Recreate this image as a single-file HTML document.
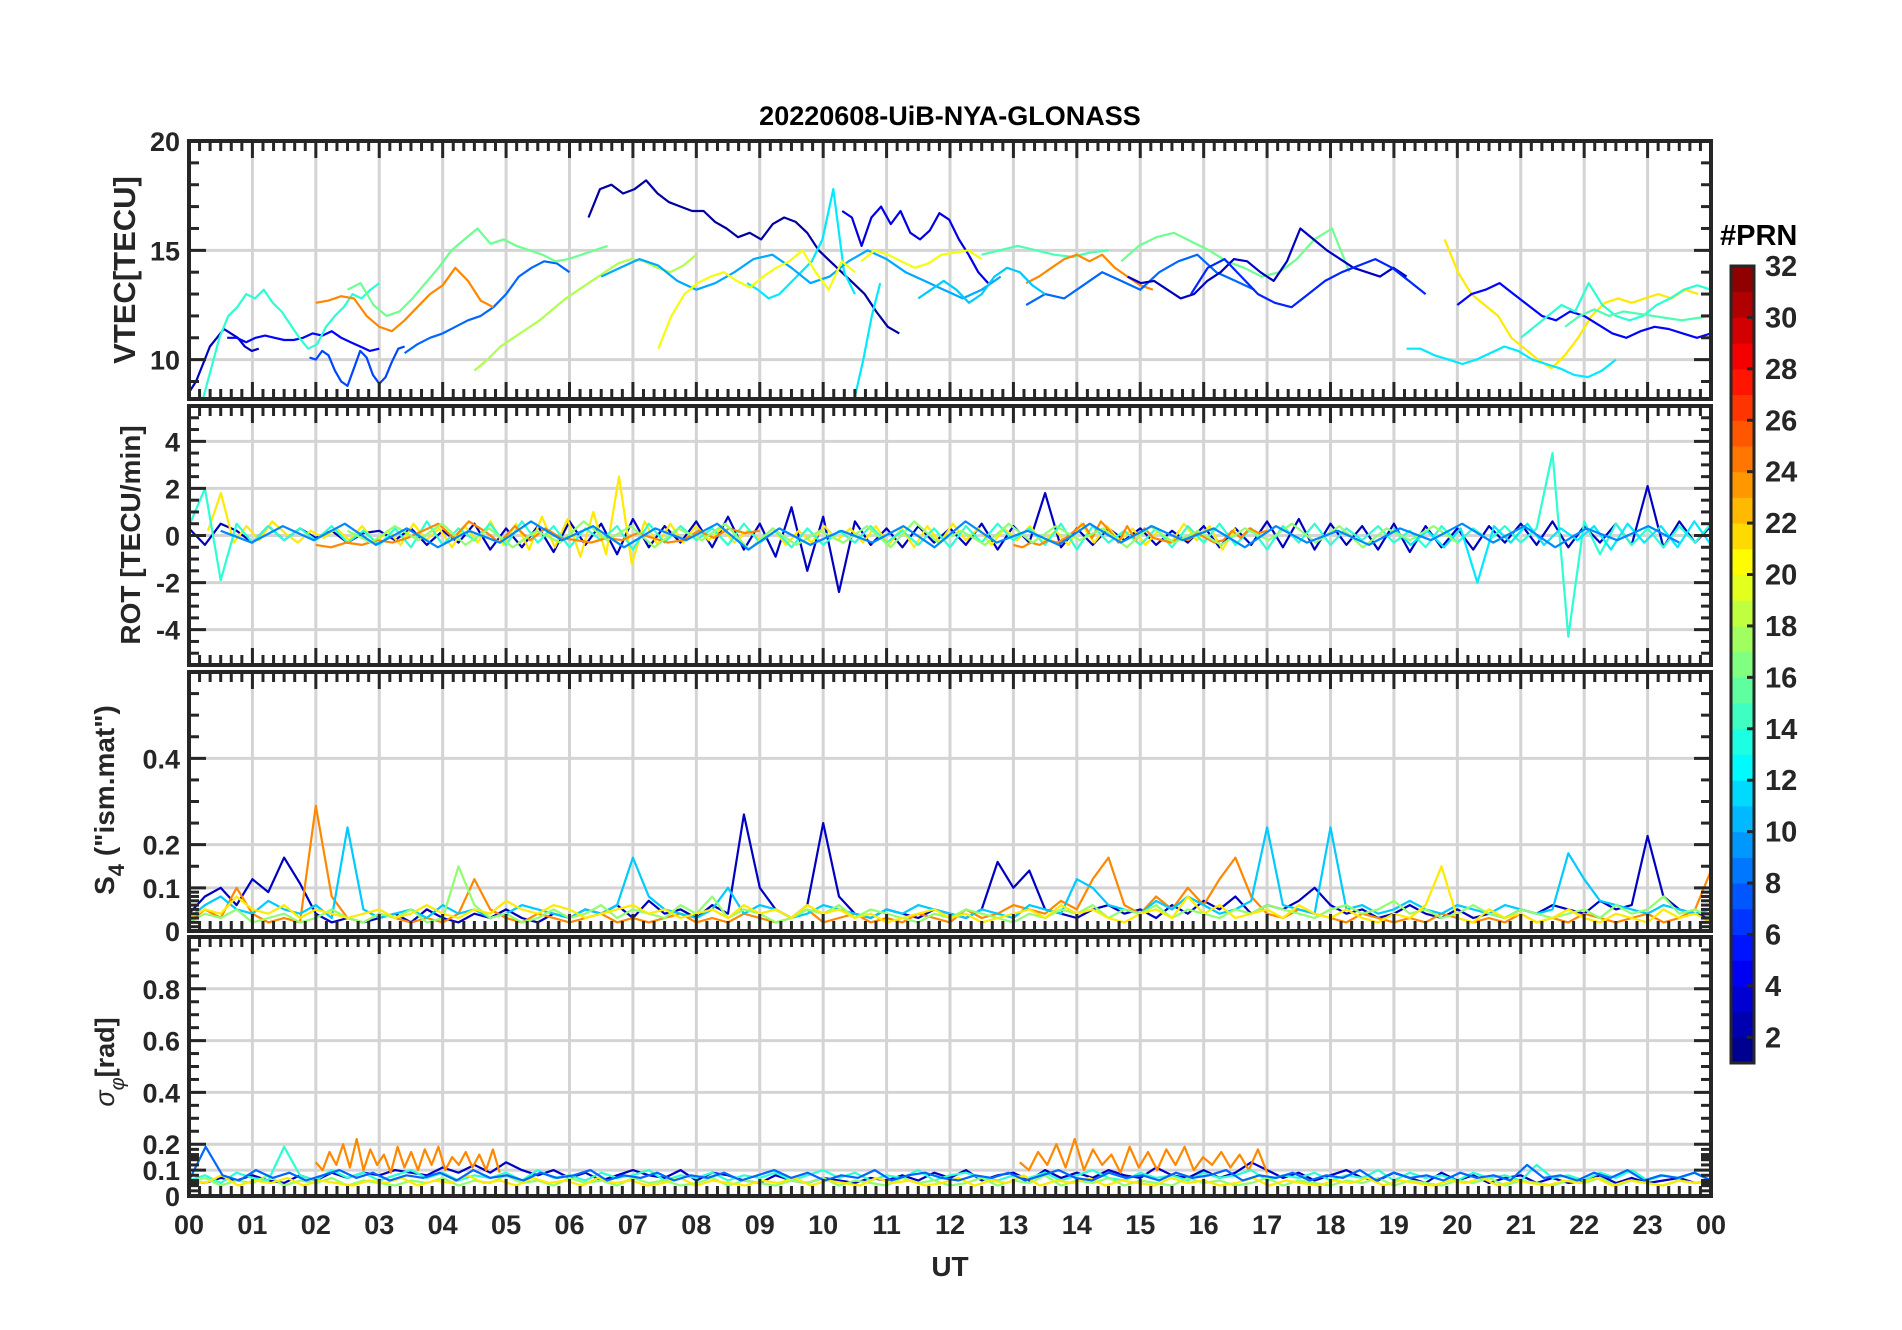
<!DOCTYPE html>
<html><head><meta charset="utf-8"><title>20220608-UiB-NYA-GLONASS</title>
<style>html,body{margin:0;padding:0;background:#fff}svg{display:block}text{font-family:"Liberation Sans",Arial,sans-serif}</style>
</head><body>
<svg id="chart" width="1902" height="1330" viewBox="0 0 1902 1330" xmlns="http://www.w3.org/2000/svg">
<rect x="0" y="0" width="1902" height="1330" fill="#fff"/>
<text x="950" y="125" font-size="27" font-weight="bold" text-anchor="middle" fill="#000">20220608-UiB-NYA-GLONASS</text>
<g id="panels"></g>
<g id="cbar"></g>
<text x="950" y="1276" font-size="28" font-weight="bold" text-anchor="middle" fill="#262626">UT</text>
<text transform="translate(135,270) rotate(-90)" font-size="31" font-weight="bold" text-anchor="middle" fill="#262626">VTEC[TECU]</text>
<text transform="translate(140,535) rotate(-90)" font-size="28" font-weight="bold" text-anchor="middle" fill="#262626">ROT [TECU/min]</text>
<text transform="translate(114,800) rotate(-90)" font-size="28" font-weight="bold" text-anchor="middle" fill="#262626">S<tspan font-size="22" dy="10">4</tspan><tspan dy="-10"> ("ism.mat")</tspan></text>
<text transform="translate(114,1062) rotate(-90)" font-size="27" text-anchor="middle" fill="#262626"><tspan font-style="italic">σ</tspan><tspan font-style="italic" font-size="20" dy="10">φ</tspan><tspan dy="-10" font-weight="bold">[rad]</tspan></text>
</svg>
<script>
// ---------- data ----------
const hourLabels = ["00","01","02","03","04","05","06","07","08","09","10","11","12","13","14","15","16","17","18","19","20","21","22","23","00"];
const vtecTicks = [10,15,20];
const rotTicks = [-4,-2,0,2,4];
const s4Ticks = [0,0.1,0.2,0.4];
const sigTicks = [0,0.1,0.2,0.4,0.6,0.8];
const cbarTicks = [2,4,6,8,10,12,14,16,18,20,22,24,26,28,30,32];

// VTEC series: [prn, tStart, tEnd] + values
const v1 = [8.5,9,9.8,10.6,11,11.4,11.2,11,10.6,10.4,10.5];
const v2 = [11,11,10.8,11,11.1,11,10.9,10.9,11,11.2,11.1,11.3,11,10.8,10.6,10.4,10.5];
const v3 = [10.1,10,10.4,10.2,9.5,9,8.8,9.6,10.4,10.1,9.3,8.9,9.2,9.9,10.5,10.6];
const v4 = [10.3,10.7,11,11.2,11.5,11.8,12,12.4,13,13.8,14.2,14.5,14.4,14];
const v5 = [8,9.5,11,12,12.4,13,12.8,13.2,12.6,12.2,11.6,11,10.5,10.7,11.5,12,12.4,13,12.8,13.2,13.5];
const v6 = [12.6,12.7,12.9,12.8,12,11.5,11.3,11.8,12.4,13,13.4,14.2,13.6,12.7,12.4];
const v7 = [13.2,13.5,12.5,12,12.2,12.8,13.5,14.2,15,15.5,16,15.3,15.5,15.2,15,14.8,14.5,14.6,14.8,15,15.2];
const v8 = [9.5,10,10.6,11,11.4,11.8,12.3,12.8,13.2,13.6,14,14.4,14.6,14.5,14.2,14,14.3,14.8];
const v9 = [16.5,17.8,18,17.6,17.8,18.2,17.6,17.2,17,16.8,16.8,16.3,16,15.6,15.8,15.5,16.2,16.5,16.3,15.8,15,14.5,14,13.5,13,12.2,11.5,11.2];
const v10 = [16.8,16.5,15.2,16.5,17,16.2,16.8,15.8,15.5,15.9,16.7,16.4,15.5,14.8,14,13.5];
const v11 = [13.5,13.2,12.8,13,13.5,14,14.5,15.5,17.8,14,13];
const v12 = [8.3,10,12,13.5];
const v13 = [13.8,14.2,14.6,14.3,13.6,13.2,13.5,14,14.6,14.8,14.2,13.5,13.8,14.5,15,14.6,14,13.6,13.2,12.8,13.2,13.8];
const v14 = [10.5,12,13,13.5,13.8,14,13.6,13.3,13.8,14.2,14.5,15,14,13.2,14.5,14];
const v15 = [14.5,15,14.8,14.5,14.2,14.4,14.8,14.9,15,14.6];
const v16 = [14.8,15,15.2,15,14.8,14.7,14.9,15];
const v17 = [13.5,13.8,14.2,14.6,14.8,14.5,14.8,14.2,13.8,13.4,13.2];
const v18 = [12.5,13,12.8,13.4,14,13.6,13.2,14,14.5,14.8,14,13.6,13.2];
const v19 = [14.5,15.2,15.6,15.8,15.4,15,14.5,14.2,13.8,14,14.6,15.5,16,14];
const v20 = [13.8,13.5,13.6,13.2,12.8,13,13.6,14,14.6,14.5,14,13.6,14.5,16,15.5,15,14.6,14.2,14,13.8,14.2,13.8];
const v21 = [15.5,14,13,12.5,12,11,10.5,10,9.6,10.2,11,12,12.6,12.8,12.6,12.8,13,12.8,13.2,13];
const v22 = [10.5,10.5,10.2,10,9.8,10,10.3,10.6,10.4,10,9.8,9.6,9.3,9.2,9.5,10];
const v23 = [12.5,13,13.2,13.5,13,12.5,12,11.8,12.2,12,11.6,11.2,11,11.3,11.5,11.4,11.2,11,11.2];
const v24 = [11,11.5,12,12.5,12.2,13.5,12.5,12,11.8,12,12.5,12.8,13.2,13.4,13.2];
const v25 = [11.5,12,12.3,12,12.2,12.1,12,11.9,11.8,11.9,12];
const v26 = [13,14.2,14.6,13.8,13,12.6,12.4,13,13.6,14,14.3,14.6,14.2,13.6,13];
const v27 = [12.8,13.2,13.6,13.2,12.6,13,13.8,14.2,14,13.4,13];
const vtecSeries = [[3,0,1.1,v1],[5,0.6,3.0,v2],[7,1.9,3.4,v3],[8,3.4,6.0,v4],[14,0.2,3.0,v5],[24,2.0,4.8,v6],[16,2.5,6.6,v7],[18,4.5,8.0,v8],[2,6.3,11.2,v9],[4,10.3,12.6,v10],[12,8.8,10.5,v11],[12,10.5,10.9,v12],[10,6.5,12.8,v13],[20,7.4,10.5,v14],[20,10.6,12.5,v15],[15,12.5,14.5,v16],[24,13.2,15.2,v17],[8,13.2,16.8,v18],[16,14.7,18.3,v19],[3,14.8,19.2,v20],[21,19.8,23.8,v21],[12,19.2,22.5,v22],[5,20,24,v23],[14,21,24,v24],[15,21.7,24,v25],[6,15.8,19.5,v26],[11,11.5,13.5,v27]];

// ROT series
const r1 = [0.3,-0.4,0.5,0.2,-0.3,0.4,-0.2,0.3,-0.1,0.2,-0.3,0.1,0.2,-0.2,0.3,-0.4,0.2,-0.3,0.5,-0.6,0.3,-0.5,0.4,-0.7,0.6,-0.4,0.5,-0.8,0.7,-0.5,0.4,-0.3,0.6,-0.5,0.8,-0.6,0.5,-0.9,1.2,-1.5,0.8,-2.4,0.6,-0.4,0.3,-0.5,0.4,-0.3,0.3,-0.4,0.5,-0.6,0.4,-0.3,1.8,-0.5,0.3,-0.4,0.3,-0.2,0.3,-0.4,0.2,-0.3,0.4,-0.5,0.3,-0.4,0.6,-0.5,0.7,-0.6,0.5,-0.4,0.4,-0.6,0.5,-0.7,0.4,-0.5,0.3,-0.6,0.4,-0.3,0.5,-0.4,0.6,-0.5,0.4,-0.3,0.5,-0.4,2.1,-0.5,0.6,-0.3,0.4];
const r2 = [0.2,1.8,-0.3,0.4,-0.2,0.6,0.1,-0.3,0.2,-0.1,0.3,-0.2,0.4,-0.3,0.2,-0.4,0.5,-0.2,0.3,-0.5,0.4,-0.3,0.6,-0.4,0.5,-0.6,0.8,-0.5,0.7,-0.9,1.0,-0.8,2.5,-1.2,0.6,-0.4,0.5,-0.3,0.4,-0.2,0.3,-0.3,0.2,-0.2,0.3,-0.4,0.2,-0.3,0.4,-0.2,0.3,-0.3,0.4,-0.4,0.3,-0.5,0.4,-0.3,0.5,-0.2,0.3,-0.4,0.3,-0.2,0.4,-0.3,0.2,-0.4,0.5,-0.3,0.4,-0.2,0.3,-0.4,0.2,-0.3,0.5,-0.2,0.4,-0.6,0.3];
const r3 = [0.4,2.0,-1.9,0.5,-0.3,0.4,-0.2,0.3,-0.2,0.4,-0.3,0.2,-0.4,0.3,-0.5,0.6,-0.4,0.3,-0.2,0.5,-0.4,0.6,-0.3,0.4,-0.5,0.3,-0.2,0.4,-0.6,0.5,-0.3,0.4,-0.2,0.3,-0.4,0.5,-0.3,0.2,-0.5,0.3,-0.4,0.2,-0.3,0.4,-0.3,0.2,-0.4,0.3,-0.5,0.4,-0.3,0.5,-0.2,0.3,-0.4,0.5,-0.6,0.4,-0.3,0.2,-0.4,0.3,-0.5,0.4,-0.3,0.5,-0.4,0.3,-0.6,0.4,-0.3,0.5,-0.4,0.3,-0.2,0.4,-0.3,0.2,-0.5,0.4,-0.3,0.3,-0.2,0.4,-0.3,0.3,3.5,-4.3,0.6,-0.8,0.5,-0.4,0.3,-0.5,0.4,-0.3,0.5];
const r4 = [-0.4,-0.5,-0.3,-0.4,-0.2,-0.3,-0.1,0.2,0.5,-0.1,0.6,0.2,-0.3,0.4,-0.2,0.3,-0.1,-0.2,-0.3,-0.1,-0.2,0.1,-0.1,-0.3,-0.2,0.2,-0.1,0.3,0.1,0.2];
const r5 = [0.3,-0.4,0.2,-0.5,0.3,-2.0,0.4,-0.3,0.5,-0.4,0.3,-0.2,0.4,-0.6,0.5,-0.3,0.4,-0.5,0.6,-0.4];
const r6 = [0.2,-0.3,0.4,-0.2,0.5,-0.4,0.3,-0.5,0.2,-0.3,0.6,-0.2,0.4,-0.5,0.3,-0.2,0.5,-0.6,0.3,-0.4,0.2,-0.3,0.4,-0.5,0.6,-0.3,0.2,-0.4,0.5,-0.3,0.4,-0.2,0.3,-0.5,0.4,-0.3,0.2,-0.4,0.3,-0.2,0.5,-0.3,0.4,-0.5,0.3,-0.2,0.4,-0.3];
const rotSeries = [[3,0,24,r1],[21,0.3,16.5,r2],[14,0,24,r3],[24,2.0,9.0,r4],[12,19.0,24,r5],[24,13.0,17.0,r4],[17,2.5,20,r6],[9,0.5,23.5,r6]];

// S4 series
const s1 = [0.04,0.08,0.1,0.06,0.12,0.09,0.17,0.11,0.04,0.02,0.03,0.02,0.03,0.04,0.02,0.05,0.03,0.02,0.04,0.03,0.05,0.03,0.02,0.04,0.03,0.05,0.04,0.06,0.03,0.07,0.04,0.05,0.03,0.06,0.04,0.27,0.1,0.05,0.03,0.06,0.25,0.08,0.04,0.03,0.05,0.04,0.03,0.05,0.04,0.03,0.05,0.16,0.1,0.14,0.05,0.04,0.03,0.05,0.06,0.04,0.05,0.03,0.06,0.04,0.07,0.05,0.08,0.04,0.06,0.05,0.07,0.1,0.06,0.04,0.05,0.03,0.04,0.06,0.04,0.03,0.05,0.03,0.04,0.03,0.05,0.04,0.06,0.05,0.04,0.07,0.05,0.06,0.22,0.08,0.05,0.04,0.03];
const s2 = [0.02,0.05,0.03,0.1,0.04,0.02,0.03,0.02,0.29,0.08,0.03,0.02,0.04,0.03,0.02,0.03,0.02,0.04,0.12,0.05,0.03,0.02,0.04,0.03,0.02,0.03,0.04,0.02,0.03,0.02,0.03,0.04,0.02,0.03,0.02,0.04,0.03,0.02,0.03,0.05,0.02,0.03,0.04,0.02,0.03,0.02,0.04,0.03,0.02,0.05,0.03,0.04,0.06,0.05,0.04,0.07,0.05,0.12,0.17,0.06,0.04,0.08,0.05,0.1,0.06,0.12,0.17,0.08,0.04,0.03,0.05,0.04,0.03,0.02,0.04,0.03,0.02,0.03,0.02,0.04,0.03,0.02,0.03,0.02,0.04,0.02,0.03,0.02,0.04,0.03,0.02,0.03,0.04,0.02,0.03,0.05,0.14];
const s3 = [0.03,0.06,0.08,0.05,0.04,0.07,0.05,0.04,0.06,0.03,0.24,0.05,0.03,0.04,0.05,0.03,0.06,0.04,0.05,0.03,0.04,0.06,0.05,0.04,0.03,0.05,0.04,0.06,0.17,0.08,0.05,0.04,0.03,0.05,0.1,0.04,0.06,0.05,0.03,0.04,0.06,0.05,0.04,0.03,0.05,0.04,0.06,0.05,0.04,0.03,0.05,0.04,0.03,0.06,0.05,0.04,0.12,0.1,0.06,0.05,0.04,0.07,0.05,0.08,0.06,0.04,0.05,0.07,0.24,0.06,0.05,0.04,0.24,0.05,0.06,0.04,0.05,0.07,0.05,0.04,0.06,0.05,0.04,0.06,0.05,0.04,0.05,0.18,0.12,0.07,0.06,0.05,0.04,0.06,0.05,0.04,0.05];
const s4 = [0.02,0.04,0.03,0.05,0.02,0.03,0.04,0.02,0.03,0.05,0.03,0.02,0.04,0.03,0.05,0.02,0.03,0.15,0.06,0.03,0.04,0.02,0.03,0.05,0.03,0.04,0.06,0.03,0.05,0.04,0.03,0.06,0.04,0.08,0.03,0.05,0.04,0.02,0.03,0.05,0.04,0.06,0.03,0.05,0.04,0.03,0.02,0.04,0.03,0.05,0.04,0.03,0.02,0.04,0.03,0.05,0.04,0.06,0.03,0.05,0.04,0.06,0.03,0.05,0.04,0.03,0.05,0.04,0.06,0.05,0.04,0.03,0.05,0.06,0.04,0.05,0.07,0.04,0.05,0.03,0.04,0.06,0.04,0.03,0.05,0.04,0.03,0.04,0.05,0.03,0.06,0.04,0.05,0.08,0.04,0.05,0.03];
const s4Series = [[3,0,24,s1],[24,0,24,s2],[11,0,24,s3],[17,0,24,s4],[21,0,24,s4.slice().reverse()]];

// sigma-phi series
const g1 = [0.06,0.05,0.07,0.06,0.08,0.06,0.05,0.08,0.06,0.09,0.07,0.09,0.08,0.1,0.09,0.08,0.11,0.09,0.12,0.09,0.13,0.1,0.08,0.1,0.07,0.09,0.06,0.08,0.1,0.08,0.07,0.1,0.06,0.09,0.08,0.06,0.05,0.08,0.06,0.05,0.07,0.06,0.05,0.07,0.06,0.08,0.06,0.09,0.07,0.1,0.06,0.08,0.09,0.06,0.1,0.07,0.09,0.07,0.1,0.08,0.07,0.11,0.08,0.07,0.1,0.07,0.09,0.13,0.1,0.07,0.09,0.06,0.08,0.1,0.07,0.06,0.09,0.07,0.05,0.09,0.06,0.08,0.05,0.07,0.08,0.05,0.07,0.05,0.06,0.08,0.05,0.07,0.05,0.06,0.07,0.05,0.06];
const g2 = [0.13,0.1,0.17,0.12,0.2,0.11,0.22,0.1,0.18,0.12,0.16,0.09,0.19,0.11,0.17,0.1,0.18,0.12,0.19,0.1,0.15,0.12,0.17,0.11,0.16,0.1,0.18,0.09];
const g3 = [0.06,0.08,0.05,0.09,0.07,0.06,0.19,0.08,0.06,0.1,0.07,0.09,0.06,0.08,0.1,0.07,0.09,0.06,0.08,0.07,0.09,0.06,0.1,0.07,0.08,0.06,0.09,0.07,0.08,0.1,0.06,0.08,0.07,0.09,0.06,0.08,0.07,0.09,0.06,0.08,0.1,0.07,0.09,0.06,0.08,0.07,0.1,0.06,0.08,0.09,0.07,0.06,0.08,0.07,0.09,0.06,0.08,0.1,0.07,0.06,0.09,0.07,0.08,0.06,0.09,0.07,0.08,0.1,0.06,0.08,0.07,0.09,0.06,0.08,0.07,0.1,0.06,0.09,0.07,0.08,0.06,0.09,0.07,0.08,0.06,0.12,0.07,0.08,0.06,0.09,0.07,0.1,0.06,0.08,0.07,0.09,0.06];
const g4 = [0.05,0.07,0.04,0.06,0.05,0.08,0.04,0.06,0.05,0.07,0.04,0.06,0.05,0.04,0.06,0.05,0.07,0.04,0.06,0.05,0.08,0.05,0.06,0.04,0.07,0.05,0.06,0.04,0.07,0.05,0.06,0.04,0.05,0.07,0.04,0.06,0.05,0.04,0.06,0.05,0.07,0.04,0.06,0.05,0.04,0.07,0.05,0.06,0.04,0.05,0.07,0.04,0.06,0.05,0.08,0.04,0.06,0.05,0.07,0.04,0.06,0.05,0.04,0.07,0.05,0.06,0.04,0.05,0.07,0.04,0.06,0.05,0.04,0.06,0.05,0.07,0.04,0.06,0.05,0.04,0.06,0.05,0.07,0.04,0.06,0.05,0.04,0.06,0.05,0.07,0.04,0.06,0.05,0.04,0.06,0.05,0.06];
const sigSeries = [[3,0,24,g1],[24,2.0,4.9,g2],[24,13.1,17.0,g2],[14,0,24,g3],[17,0,24,g4],[21,0,24,g4.slice(3)],[8,0,24,g3.slice(5)]];

// ---------- layout ----------
const X0 = 189, X1 = 1711;
const panels = [
  {name:"vtec", top:141, bottom:399, min:8.2, max:20, ticks:vtecTicks, minor:1, fine:0, fineTo:0, series:vtecSeries},
  {name:"rot", top:406, bottom:665, min:-5.5, max:5.5, ticks:rotTicks, minor:0.5, fine:0, fineTo:0, series:rotSeries},
  {name:"s4", top:672, bottom:931, min:0, max:0.6, ticks:s4Ticks, minor:0.05, fine:0.01, fineTo:0.1, series:s4Series},
  {name:"sigma-phi", top:937, bottom:1196, min:0, max:1, ticks:sigTicks, minor:0.05, fine:0.02, fineTo:0.2, series:sigSeries}
];
const NS = "http://www.w3.org/2000/svg";
const xScale = t => X0 + t/24*(X1-X0);
function jet(v){
  const t = (v-1)/31;
  const c = x => Math.round(255*Math.max(0,Math.min(1,x)));
  return `rgb(${c(1.5-Math.abs(4*t-3))},${c(1.5-Math.abs(4*t-2))},${c(1.5-Math.abs(4*t-1))})`;
}
function el(tag, attrs, parent){
  const e = document.createElementNS(NS, tag);
  for (const k in attrs) e.setAttribute(k, attrs[k]);
  parent.appendChild(e);
  return e;
}
const root = document.getElementById("panels");
const defs = el("defs", {}, root);
panels.forEach((p, pi) => {
  const yScale = v => p.bottom - (v - p.min)/(p.max - p.min)*(p.bottom - p.top);
  const g = el("g", {}, root);
  
  
  const cp = el("clipPath", {id:"clip"+pi}, defs);
  el("rect", {x:X0, y:p.top, width:X1-X0, height:p.bottom-p.top}, cp);
  for (let h=1; h<24; h++){
    const gl = el("line", {x1:xScale(h), x2:xScale(h), y1:p.top, y2:p.bottom, stroke:"#d4d4d4", "stroke-width":3}, g);
    
    
  }
  p.ticks.forEach(v => {
    if (v <= p.min + 1e-9 || v >= p.max - 1e-9) return;
    const gl = el("line", {x1:X0, x2:X1, y1:yScale(v), y2:yScale(v), stroke:"#d4d4d4", "stroke-width":3}, g);
    
    
  });
  const dg = el("g", {"clip-path":`url(#clip${pi})`}, g);
  p.series.forEach(s => {
    const [prn, t0, t1, vals] = s;
    const dt = (t1 - t0)/(vals.length - 1);
    const pts = vals.map((v,i) => `${xScale(t0+i*dt).toFixed(1)},${yScale(v).toFixed(1)}`).join(" ");
    const pl = el("polyline", {points:pts, fill:"none", stroke:jet(prn), "stroke-width":2.2, "stroke-linejoin":"round"}, dg);
    
    
  });
  const tk = el("g", {stroke:"#262626", "stroke-width":3}, g);
  for (let m=0; m<=144; m++){
    const x = xScale(m/6), major = m%6===0, L = major?17:10;
    el("line", {x1:x, x2:x, y1:p.bottom, y2:p.bottom-L}, tk);
    el("line", {x1:x, x2:x, y1:p.top, y2:p.top+L}, tk);
  }
  const yt = new Set();
  for (let v = Math.ceil(p.min/p.minor)*p.minor; v <= p.max+1e-9; v += p.minor) yt.add(+v.toFixed(3));
  if (p.fine) for (let v=p.fine; v<p.fineTo-1e-9; v+=p.fine) yt.add(+v.toFixed(3));
  yt.forEach(v => {
    if (v <= p.min + 1e-9) return;
    const major = p.ticks.some(t => Math.abs(t-v)<1e-9), L = major?17:10, y = yScale(v);
    el("line", {x1:X0, x2:X0+L, y1:y, y2:y}, tk);
    el("line", {x1:X1, x2:X1-L, y1:y, y2:y}, tk);
  });
  p.ticks.forEach(v => {
    const t = el("text", {x:180, y:yScale(v)+10, "font-size":27, "font-weight":"bold", "text-anchor":"end", fill:"#262626"}, g);
    t.textContent = String(v);
    
    
  });
  const fr = el("rect", {x:X0, y:p.top, width:X1-X0, height:p.bottom-p.top, fill:"none", stroke:"#262626", "stroke-width":4}, g);
  
  
});
hourLabels.forEach((lab, i) => {
  const t = el("text", {x:xScale(i), y:1234, "font-size":27, "font-weight":"bold", "text-anchor":"middle", fill:"#262626"}, root);
  t.textContent = lab;
  
  
});
const cb = document.getElementById("cbar");


const CB = {x:1731, w:23, top:266, bottom:1063, min:1, max:32};
const cbY = v => CB.bottom - (v-CB.min)/(CB.max-CB.min)*(CB.bottom-CB.top);
for (let b=0; b<31; b++){
  el("rect", {x:CB.x, y:cbY(b+2), width:CB.w, height:cbY(b+1)-cbY(b+2)+0.5, fill:jet(b+1.5)}, cb);
}
const cbf = el("rect", {x:CB.x, y:CB.top, width:CB.w, height:CB.bottom-CB.top, fill:"none", stroke:"#262626", "stroke-width":3}, cb);


cbarTicks.forEach(v => {
  el("line", {x1:CB.x+CB.w, x2:CB.x+CB.w-7, y1:cbY(v), y2:cbY(v), stroke:"#262626", "stroke-width":3}, cb);
  const t = el("text", {x:1765, y:cbY(v)+10, "font-size":29, "font-weight":"bold", fill:"#262626"}, cb);
  t.textContent = String(v);
  
  
});
const ct = el("text", {x:1720, y:245, "font-size":29, "font-weight":"bold", fill:"#000"}, cb);
ct.textContent = "#PRN";


</script>
</body></html>
